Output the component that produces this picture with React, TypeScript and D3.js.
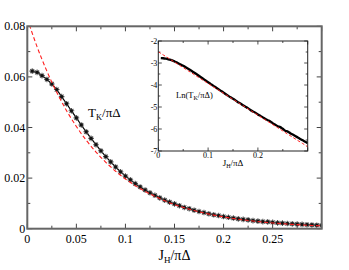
import React from "react";
import * as d3 from "d3";

// Black series (NRG data) J_H/πΔ and T_K/πΔ
const jData = [
  0.005, 0.01, 0.015, 0.02, 0.025, 0.03, 0.035, 0.04, 0.045, 0.05,
  0.055, 0.06, 0.065, 0.07, 0.075, 0.08, 0.085, 0.09, 0.095, 0.1,
  0.105, 0.11, 0.115, 0.12, 0.125, 0.13, 0.135, 0.14, 0.145, 0.15,
  0.155, 0.16, 0.165, 0.17, 0.175, 0.18, 0.185, 0.19, 0.195, 0.2,
  0.205, 0.21, 0.215, 0.22, 0.225, 0.23, 0.235, 0.24, 0.245, 0.25,
  0.255, 0.26, 0.265, 0.27, 0.275, 0.28, 0.285, 0.29, 0.295, 0.3,
];
const tkData = [
  0.0623, 0.0618, 0.0605, 0.059, 0.0572, 0.055, 0.0522, 0.0494, 0.0466, 0.0438,
  0.041, 0.0383, 0.0357, 0.0332, 0.0308, 0.0285, 0.0264, 0.0244, 0.0225, 0.0208,
  0.0193, 0.0178, 0.0165, 0.0153, 0.0142, 0.0132, 0.0122, 0.0113, 0.0105, 0.0098,
  0.0091, 0.0084, 0.0079, 0.0073, 0.0068, 0.0064, 0.0059, 0.0055, 0.0052, 0.0048,
  0.0045, 0.0042, 0.0039, 0.0037, 0.0035, 0.0032, 0.003, 0.0028, 0.0027, 0.0025,
  0.0023, 0.0022, 0.00205, 0.00192, 0.0018, 0.00169, 0.00158, 0.00148, 0.00139, 0.0013,
];

// Red dashed fit
const jFit = [
  0, 0.01, 0.02, 0.03, 0.04, 0.05, 0.06, 0.07, 0.08, 0.09, 0.1,
  0.11, 0.12, 0.13, 0.14, 0.15, 0.16, 0.17, 0.18, 0.19, 0.2,
  0.21, 0.22, 0.23, 0.24, 0.25, 0.26, 0.27, 0.28, 0.29, 0.3,
];
const tkFit = [
  0.083, 0.07187, 0.06223, 0.05389, 0.04666, 0.0404, 0.03499, 0.0303, 0.02623, 0.02271, 0.01967,
  0.01703, 0.01475, 0.01277, 0.01106, 0.00957, 0.00829, 0.00718, 0.00621, 0.00538, 0.00466,
  0.00403, 0.00349, 0.00303, 0.00262, 0.00227, 0.00196, 0.0017, 0.00147, 0.00128, 0.0011,
];

const xTickLabels = ["0", "0.05", "0.1", "0.15", "0.2", "0.25"];
const yTickLabels = ["0", "0.02", "0.04", "0.06", "0.08"];
const insetXTickLabels = ["0", "0.1", "0.2"];
const insetYTickLabels = ["-7", "-6", "-5", "-4", "-3", "-2"];

const FONT = "'Liberation Serif', 'DejaVu Serif', serif";

export default function App() {
  const x = d3.scaleLinear().domain([0, 0.3]).range([27.3, 321.7]);
  const y = d3.scaleLinear().domain([0, 0.08]).range([228.7, 26.3]);
  const ix = d3.scaleLinear().domain([0, 0.3]).range([158.3, 307.7]);
  const iy = d3.scaleLinear().domain([-7, -2]).range([151, 41]);

  const blackPts: [number, number][] = jData.map((j, i) => [j, tkData[i]]);
  const fitPts: [number, number][] = jFit.map((j, i) => [j, tkFit[i]]);

  const mainLine = d3.line<[number, number]>().x((d) => x(d[0])).y((d) => y(d[1]));
  const mainFit = d3
    .line<[number, number]>()
    .x((d) => x(d[0]))
    .y((d) => y(d[1]))
    .curve(d3.curveMonotoneX);
  const insetLine = d3
    .line<[number, number]>()
    .x((d) => ix(d[0]))
    .y((d) => iy(Math.log(d[1])))
    .curve(d3.curveMonotoneX);

  const xMajor = d3.range(0, 0.3001, 0.05);
  const xMinor = d3.range(0.025, 0.3, 0.05);
  const yMajor = d3.range(0, 0.0801, 0.02);
  const yMinor = d3.range(0.01, 0.08, 0.02);
  const ixMajor = d3.range(0, 0.3001, 0.1);
  const ixMinor = d3.range(0.05, 0.3, 0.1);
  const iyMajor = d3.range(-7, -1.99, 1);
  const iyMinor = d3.range(-6.5, -2, 1);

  const [x0, x1] = x.range();
  const [y0, y1] = y.range();
  const [ix0, ix1] = ix.range();
  const [iy0, iy1] = iy.range();

  const tickColor = "#444";

  const star = (cx: number, cy: number, k: number) => {
    const r = 2.8;
    const segs = [0, 45, 90, 135].map((a) => {
      const rad = (a * Math.PI) / 180;
      const dx = r * Math.cos(rad);
      const dy = r * Math.sin(rad);
      return `M${cx - dx},${cy - dy}L${cx + dx},${cy + dy}`;
    });
    return (
      <g key={k}>
        <path d={segs.join("")} stroke="#555" strokeWidth={1.1} />
        <circle cx={cx} cy={cy} r={1.6} fill="#111" />
      </g>
    );
  };

  return (
    <svg
      width={349}
      height={270}
      style={{ position: "absolute", left: 0, top: 0, background: "#fff" }}
      fontFamily={FONT}
    >
      <defs>
        <clipPath id="mainClip">
          <rect x={x0} y={y1} width={x1 - x0} height={y0 - y1} />
        </clipPath>
        <clipPath id="insetClip">
          <rect x={ix0} y={iy1} width={ix1 - ix0} height={iy0 - iy1} />
        </clipPath>
      </defs>

      {/* main ticks */}
      <g stroke={tickColor} strokeWidth={1}>
        {xMajor.map((v, i) => (
          <g key={"xm" + i}>
            <line x1={x(v)} x2={x(v)} y1={y0} y2={y0 - 5} />
            <line x1={x(v)} x2={x(v)} y1={y1} y2={y1 + 5} />
          </g>
        ))}
        {xMinor.map((v, i) => (
          <g key={"xn" + i}>
            <line x1={x(v)} x2={x(v)} y1={y0} y2={y0 - 3} />
            <line x1={x(v)} x2={x(v)} y1={y1} y2={y1 + 3} />
          </g>
        ))}
        {yMajor.map((v, i) => (
          <g key={"ym" + i}>
            <line x1={x0} x2={x0 + 5} y1={y(v)} y2={y(v)} />
            <line x1={x1} x2={x1 - 5} y1={y(v)} y2={y(v)} />
          </g>
        ))}
        {yMinor.map((v, i) => (
          <g key={"yn" + i}>
            <line x1={x0} x2={x0 + 3} y1={y(v)} y2={y(v)} />
            <line x1={x1} x2={x1 - 3} y1={y(v)} y2={y(v)} />
          </g>
        ))}
      </g>

      {/* main data */}
      <g clipPath="url(#mainClip)">
        <path d={mainLine(blackPts) || ""} fill="none" stroke="#000" strokeWidth={1.2} />
        {blackPts.map((d, i) => star(x(d[0]), y(d[1]), i))}
        <path
          d={mainFit(fitPts) || ""}
          fill="none"
          stroke="#ff2020"
          strokeWidth={1.1}
          strokeDasharray="4,2.5"
        />
      </g>

      {/* main frame */}
      <rect x={x0} y={y1} width={x1 - x0} height={y0 - y1} fill="none" stroke="#666" strokeWidth={2} />

      {/* main tick labels */}
      <g fontSize={12} fill="#000">
        {xMajor.slice(0, xTickLabels.length).map((v, i) => (
          <text key={"xl" + i} x={x(v)} y={243} textAnchor="middle">
            {xTickLabels[i]}
          </text>
        ))}
        {yMajor.map((v, i) => (
          <text key={"yl" + i} x={x0 - 2} y={y(v) + 4} textAnchor="end">
            {yTickLabels[i]}
          </text>
        ))}
      </g>

      {/* main axis title */}
      <text x={(x0 + x1) / 2} y={260} textAnchor="middle" fontSize={14}>
        J<tspan fontSize={9} dy={3}>H</tspan>
        <tspan dy={-3}>/πΔ</tspan>
      </text>
      <text x={88} y={117} fontSize={13}>
        T<tspan fontSize={8.5} dy={3}>K</tspan>
        <tspan dy={-3}>/πΔ</tspan>
      </text>

      {/* inset */}
      <rect x={ix0} y={iy1} width={ix1 - ix0} height={iy0 - iy1} fill="#fff" />
      <g stroke="#222" strokeWidth={0.8}>
        {ixMajor.map((v, i) => (
          <g key={"ixm" + i}>
            <line x1={ix(v)} x2={ix(v)} y1={iy0} y2={iy0 - 3.5} />
            <line x1={ix(v)} x2={ix(v)} y1={iy1} y2={iy1 + 3.5} />
          </g>
        ))}
        {ixMinor.map((v, i) => (
          <g key={"ixn" + i}>
            <line x1={ix(v)} x2={ix(v)} y1={iy0} y2={iy0 - 2} />
            <line x1={ix(v)} x2={ix(v)} y1={iy1} y2={iy1 + 2} />
          </g>
        ))}
        {iyMajor.map((v, i) => (
          <g key={"iym" + i}>
            <line x1={ix0} x2={ix0 + 3.5} y1={iy(v)} y2={iy(v)} />
            <line x1={ix1} x2={ix1 - 3.5} y1={iy(v)} y2={iy(v)} />
          </g>
        ))}
        {iyMinor.map((v, i) => (
          <g key={"iyn" + i}>
            <line x1={ix0} x2={ix0 + 2} y1={iy(v)} y2={iy(v)} />
            <line x1={ix1} x2={ix1 - 2} y1={iy(v)} y2={iy(v)} />
          </g>
        ))}
      </g>
      <g clipPath="url(#insetClip)">
        <path d={insetLine(blackPts) || ""} fill="none" stroke="#000" strokeWidth={2.3} />
        <path
          d={insetLine(fitPts) || ""}
          fill="none"
          stroke="#ff2020"
          strokeWidth={1}
          strokeDasharray="3,2"
        />
      </g>
      <rect x={ix0} y={iy1} width={ix1 - ix0} height={iy0 - iy1} fill="none" stroke="#222" strokeWidth={1} />

      <g fontSize={8} fill="#000">
        {ixMajor.slice(0, insetXTickLabels.length).map((v, i) => (
          <text key={"ixl" + i} x={ix(v)} y={158} textAnchor="middle">
            {insetXTickLabels[i]}
          </text>
        ))}
        {iyMajor.map((v, i) => (
          <text key={"iyl" + i} x={ix0 - 1} y={iy(v) + 3} textAnchor="end">
            {insetYTickLabels[i]}
          </text>
        ))}
      </g>
      <text x={(ix0 + ix1) / 2} y={166} textAnchor="middle" fontSize={9}>
        J<tspan fontSize={6} dy={2}>H</tspan>
        <tspan dy={-2}>/πΔ</tspan>
      </text>
      <text x={176} y={97.5} fontSize={8.5}>
        Ln(T<tspan fontSize={6} dy={2}>K</tspan>
        <tspan dy={-2}>/πΔ)</tspan>
      </text>
    </svg>
  );
}
